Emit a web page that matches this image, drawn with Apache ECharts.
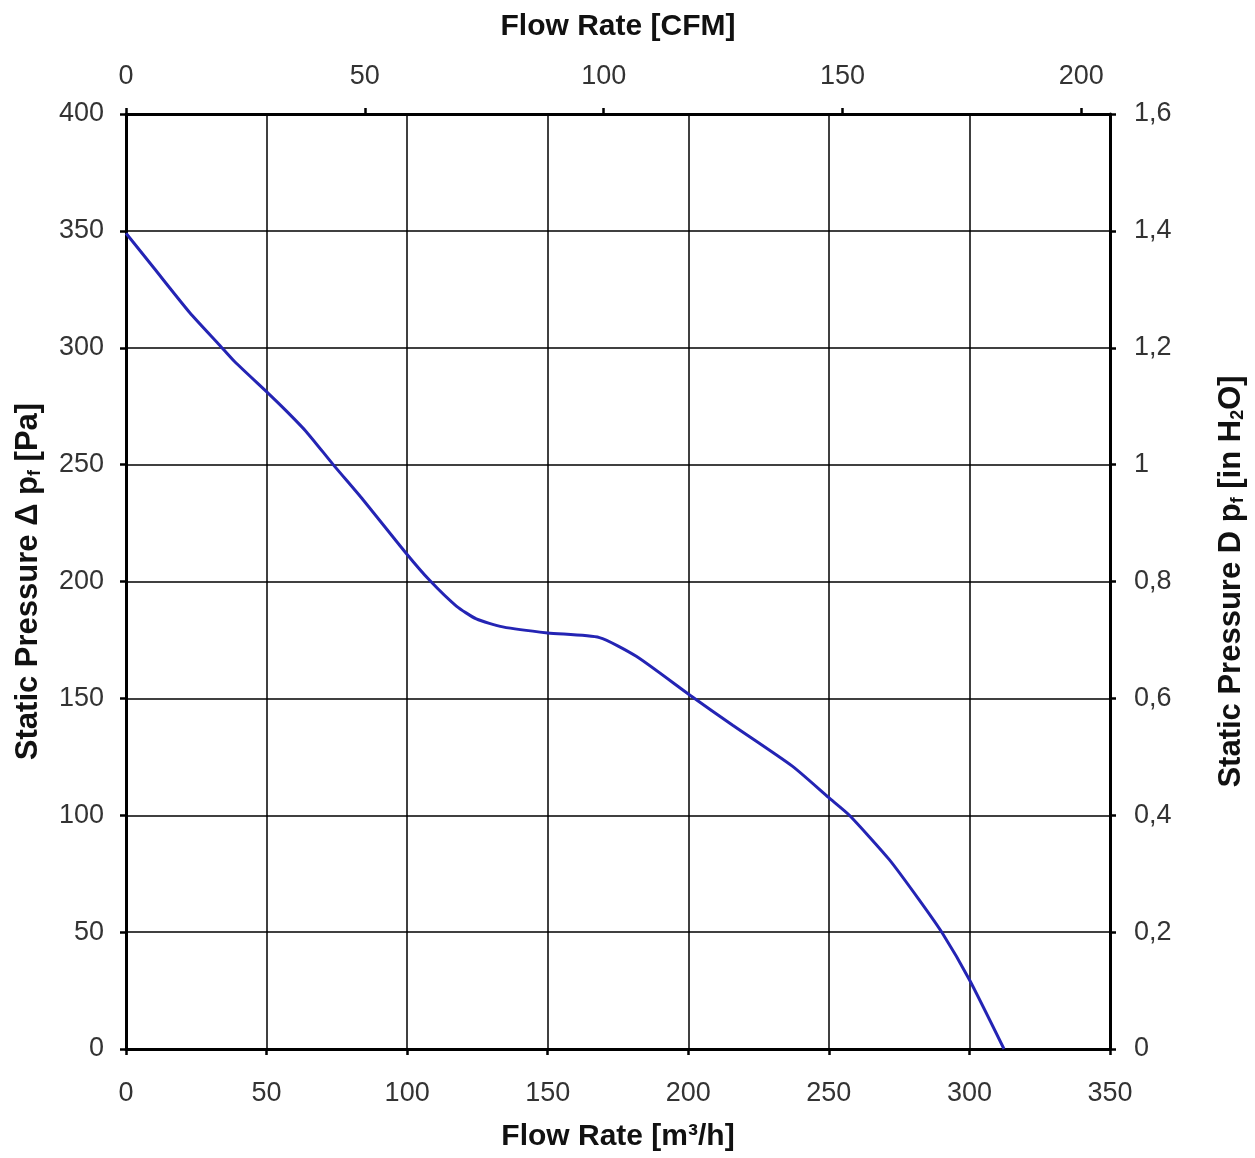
<!DOCTYPE html>
<html>
<head>
<meta charset="utf-8">
<script src="https://cdn.jsdelivr.net/npm/echarts@6/dist/echarts.min.js"></script>
<style>
html,body{margin:0;padding:0;background:#fff;}
#chart{width:1255px;height:1158px;}
</style>
</head>
<body>
<div id="chart"></div>
<script>
// Curve values (flow in m³/h, static pressure in Pa)
const flowM3h   = [0, 10, 22.7, 33.4, 38.7, 50.6, 57, 64.2, 73.7, 84.3, 99.7, 108, 117.5, 124.6, 134, 150, 168.4, 181.5, 201, 215.8, 237, 250, 257.3, 271.5, 282, 290.4, 300, 312.3];
const pressurePa = [349, 334, 315, 301, 294, 280.5, 273, 264, 250, 235, 212, 200.5, 189.5, 184, 180.6, 178, 176, 168, 151, 138.5, 121, 107.5, 100, 81, 64, 49.5, 29.6, 0];

const bottomTicks = [0, 50, 100, 150, 200, 250, 300, 350];
const leftTicks   = [0, 50, 100, 150, 200, 250, 300, 350, 400];
const topTicksCFM = [0, 50, 100, 150, 200];
const rightTicksInH2O = [0, 0.2, 0.4, 0.6, 0.8, 1, 1.2, 1.4, 1.6];

const M3H_PER_CFM = 1.699;

const curve = flowM3h.map((x, i) => [x, pressurePa[i]]);

const chart = echarts.init(document.getElementById('chart'));

const labelFont = "'Liberation Sans', Arial, sans-serif";
const titleFont = "'Liberation Sans', Arial, sans-serif";

const axisLineStyle = {show: true, onZero: false, lineStyle: {color: '#000', width: 3}};
const tickStyle = {show: true, inside: false, length: 6, lineStyle: {color: '#000', width: 2.5}};
const labelStyle = {color: '#333', fontFamily: labelFont, fontSize: 27};
const nameRich = {
  b: {fontFamily: titleFont, fontSize: 31, fontWeight: 'bold', color: '#111'},
  s: {fontFamily: titleFont, fontSize: 18, fontWeight: 'bold', color: '#111', verticalAlign: 'bottom'}
};

const option = {
  backgroundColor: '#fff',
  animation: false,
  grid: {left: 126, right: 144, top: 114, bottom: 109, containLabel: false},
  xAxis: [
    {
      type: 'value', position: 'bottom',
      min: bottomTicks[0], max: bottomTicks[bottomTicks.length - 1], interval: 50,
      axisLine: axisLineStyle, axisTick: tickStyle,
      axisLabel: Object.assign({margin: 31}, labelStyle),
      splitLine: {show: true, lineStyle: {color: '#000', width: 1.5}},
      name: 'Flow Rate [m³/h]', nameLocation: 'middle', nameGap: 73,
      nameTextStyle: {fontFamily: titleFont, fontSize: 30, fontWeight: 'bold', color: '#111'}
    },
    {
      type: 'value', position: 'top',
      min: 0, max: bottomTicks[bottomTicks.length - 1] / M3H_PER_CFM,
      axisLine: axisLineStyle,
      axisTick: Object.assign({customValues: topTicksCFM}, tickStyle),
      axisLabel: Object.assign({margin: 24, customValues: topTicksCFM}, labelStyle),
      splitLine: {show: false},
      name: 'Flow Rate [CFM]', nameLocation: 'middle', nameGap: 72,
      nameTextStyle: {fontFamily: titleFont, fontSize: 30, fontWeight: 'bold', color: '#111'}
    }
  ],
  yAxis: [
    {
      type: 'value', position: 'left',
      min: leftTicks[0], max: leftTicks[leftTicks.length - 1], interval: 50,
      axisLine: axisLineStyle, axisTick: tickStyle,
      axisLabel: Object.assign({margin: 22}, labelStyle),
      splitLine: {show: true, lineStyle: {color: '#000', width: 1.5}},
      name: '{b|Static Pressure Δ p}{s|f}{b| [Pa]}', nameLocation: 'middle', nameGap: 82,
      nameTextStyle: {rich: nameRich}
    },
    {
      type: 'value', position: 'right',
      min: rightTicksInH2O[0], max: rightTicksInH2O[rightTicksInH2O.length - 1], interval: 0.2,
      axisLine: axisLineStyle, axisTick: tickStyle,
      axisLabel: Object.assign({margin: 24, formatter: v => String(Math.round(v * 10) / 10).replace('.', ',')}, labelStyle),
      splitLine: {show: false},
      name: '{b|Static Pressure D p}{s|f}{b| [in H}{s|2}{b|O]}', nameLocation: 'middle', nameGap: 106,
      nameTextStyle: {rich: nameRich}
    }
  ],
  series: [
    {
      type: 'line', xAxisIndex: 0, yAxisIndex: 0,
      data: curve, smooth: 0.2, showSymbol: false,
      lineStyle: {color: '#2424b4', width: 3}
    }
  ]
};

chart.setOption(option);
</script>
</body>
</html>
